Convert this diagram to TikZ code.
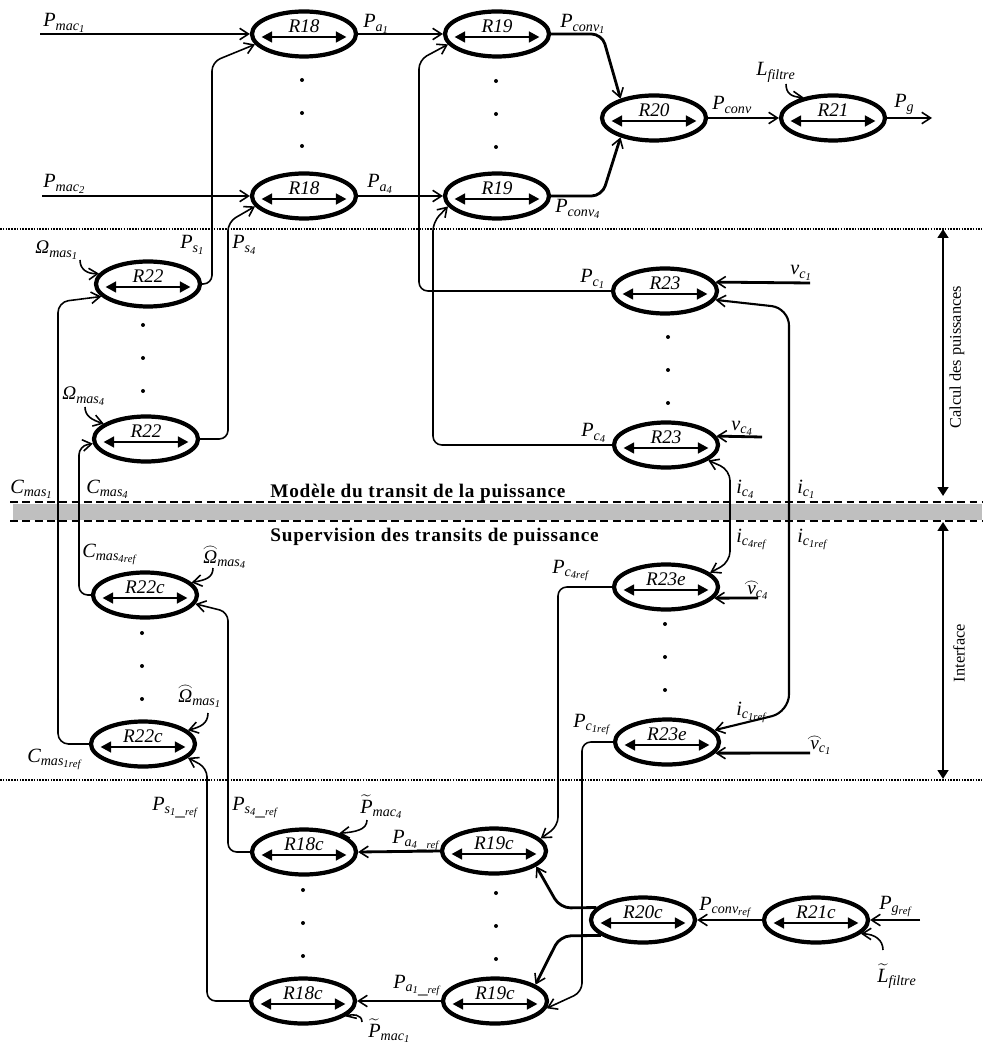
\documentclass[11pt,tikz,border=0pt]{standalone}
\usepackage{fontspec}
\setmainfont{Liberation Serif}
\DeclareMathAlphabet{\mathvar}{TU}{\rmdefault}{m}{it}
\DeclareMathSizes{10.95}{11.5}{8}{6}
\newcommand{\arcsur}[2]{\ooalign{#2\cr\hidewidth\raisebox{#1}{$\scriptstyle\frown$}\hidewidth\cr}}
\usetikzlibrary{arrows.meta,shapes.geometric}

\begin{document}
\begin{tikzpicture}[x=0.2mm,y=-0.2mm,
    bloc/.style={ellipse,draw,line width=2.4pt,minimum width=20.8mm,minimum height=9mm,inner sep=0pt,
      path picture={
        \draw[line width=1.6pt,{Triangle[length=6pt,width=6pt]}-{Triangle[length=6pt,width=6pt]}]
          ([xshift=-8.5mm,yshift=-0.6mm]path picture bounding box.center) --
          ([xshift=8.5mm,yshift=-0.6mm]path picture bounding box.center);
        \node[inner sep=0pt] at ([yshift=1.6mm]path picture bounding box.center) {\textit{#1}};}},
    lbl/.style={anchor=base west,inner sep=0pt},
    fin/.style={line width=0.9pt},
    moyen/.style={line width=1.2pt},
    epais/.style={line width=1.6pt},
    fl/.style={-{Straight Barb[length=5pt,width=6.5pt,line width=0.9pt]}},
    dfl/.style={{Straight Barb[length=5pt,width=6.5pt,line width=0.9pt]}-{Straight Barb[length=5pt,width=6.5pt,line width=0.9pt]}},
    pointille/.style={line width=1.1pt,dash pattern=on 0.9pt off 0.7pt},
    tiret/.style={line width=1.2pt,dash pattern=on 4.5pt off 2.5pt},
    borne/.style={line width=1.3pt,{Triangle[length=5pt,width=6pt]}-{Triangle[length=5pt,width=6pt]}}]
    \useasboundingbox (0,0) rectangle (982,1044);

    % separations
    \fill[black!25] (13,504) rectangle (982,520);
    \draw[tiret] (10,502) -- (982,502);
    \draw[tiret] (10,521) -- (982,521);
    \draw[pointille] (0,229) -- (982,229);
    \draw[pointille] (0,780) -- (982,780);
    \draw[borne] (943,229) -- (943,496);
    \draw[borne] (943,522) -- (943,779);
    \node[rotate=90,font=\fontsize{9.3}{11}\selectfont] at (957,357) {Calcul des puissances};
    \node[rotate=90,font=\fontsize{9.3}{11}\selectfont] at (959,653) {Interface};
    \node[lbl,font=\bfseries\addfontfeature{LetterSpace=4}] at (270,497) {Modèle du transit de la puissance};
    \node[lbl,font=\bfseries\addfontfeature{LetterSpace=4}] at (270,541) {Supervision des transits de puissance};

    % modele
    \node[bloc=R18] (r18a) at (304,34) {};
    \node[bloc=R18] (r18b) at (304,196) {};
    \node[bloc=R19] (r19a) at (497,34) {};
    \node[bloc=R19] (r19b) at (497,196) {};
    \node[bloc=R20] (r20) at (654,118) {};
    \node[bloc=R21] (r21) at (833,118) {};
    \node[bloc=R22] (r22a) at (148,284) {};
    \node[bloc=R22] (r22b) at (146,439) {};
    \node[bloc=R23] (r23a) at (665,291) {};
    \node[bloc=R23] (r23b) at (666,445) {};

    % supervision
    \node[bloc=R22c] (r22ca) at (145,595) {};
    \node[bloc=R22c] (r22cb) at (143,744) {};
    \node[bloc=R23e] (r23ea) at (666,587) {};
    \node[bloc=R23e] (r23eb) at (667,742) {};
    \node[bloc=R18c] (r18ca) at (304,852) {};
    \node[bloc=R18c] (r18cb) at (303,1001) {};
    \node[bloc=R19c] (r19ca) at (494,851) {};
    \node[bloc=R19c] (r19cb) at (495,1001) {};
    \node[bloc=R20c] (r20c) at (643,920) {};
    \node[bloc=R21c] (r21c) at (816,920) {};

    % points de suspension
    \foreach \x/\y in {302/80,496/81,143/325,668/337,142/633,665/624,303/890,496/893}
      \foreach \d in {0,33,66}
        \fill (\x,{\y+\d}) circle (0.4mm);

    % entrees libres
    \coordinate (pmac1) at (40,34);
    \coordinate (pmac2) at (42,196);
    \coordinate (pg) at (932,118);
    \coordinate (lf) at (786,84);
    \coordinate (om1) at (80,260);
    \coordinate (om4) at (85,407);
    \coordinate (vc1) at (810,283);
    \coordinate (vc4) at (762,437);
    \coordinate (om4h) at (213,568);
    \coordinate (om1h) at (208,713);
    \coordinate (vc4h) at (758,598);
    \coordinate (vc1h) at (810,753);
    \coordinate (pgref) at (920,920);
    \coordinate (lfh) at (883,950);
    \coordinate (pm4t) at (367,820);
    \coordinate (pm1t) at (362,1022);

    % liaisons du modele
    \draw[epais,fl] (pmac1) -- (r18a.west);
    \draw[epais,fl] (pmac2) -- (r18b.west);
    \draw[fin,fl,rounded corners=5pt] (r22a.east) -| (212,62) -- (r18a.192);
    \draw[fin,fl,rounded corners=5pt] (r22b.east) -| (228,222) -- (r18b.192);
    \draw[fin,fl] (r18a.east) -- (r19a.west);
    \draw[epais,fl] (r18b.east) -- (r19b.west);
    \draw[fin,fl,rounded corners=5pt] (r23a.west) -| (419,60) -- (r19a.192);
    \draw[fin,fl,rounded corners=5pt] (r23b.west) -| (433,222) -- (r19b.192);
    \draw[epais,fl,rounded corners=6pt] (r19a.east) -- (602,34) -- (r20.150);
    \draw[epais,fl,rounded corners=6pt] (r19b.east) -- (602,196) -- (r20.210);
    \draw[moyen,fl] (r20.east) -- (r21.west);
    \draw[epais,fl] (r21.east) -- (pg);
    \draw[fin,fl] (lf) .. controls (786,94) and (792,97) .. (r21.145);
    \draw[fin,fl] (om1) .. controls (80,270) and (88,274) .. (r22a.168);
    \draw[fin,fl,rounded corners=6pt] (r22cb.west) -| (58,302) -- (r22a.195);
    \draw[fin,fl] (om4) .. controls (85,416) and (92,420) .. (r22b.160);
    \draw[fin,fl,rounded corners=5pt] (r22ca.west) -| (79,446) -- (r22b.185);
    \draw[epais,fl] (vc1) -- (r23a.10);
    \draw[epais,fl] (vc4) -- (r23b.10);
    \draw[moyen,dfl,rounded corners=10pt] (r23a.350) -- (789,308) -- (789,712) -- (r23eb.14);
    \draw[fin,dfl,rounded corners=6pt] (r23b.340) -- (730,470) -- (730,562) -- (r23ea.18);

    % liaisons de la supervision
    \draw[fin,fl] (om4h) .. controls (213,578) and (205,580) .. (r22ca.15);
    \draw[fin,fl] (om1h) .. controls (208,724) and (200,727) .. (r22cb.17);
    \draw[fin,fl,rounded corners=5pt] (r18ca.west) -| (228,612) -- (r22ca.350);
    \draw[fin,fl,rounded corners=5pt] (r18cb.west) -| (207,768) -- (r22cb.343);
    \draw[fin,fl,rounded corners=5pt] (r23ea.west) -| (558,826) -- (r19ca.15);
    \draw[fin,fl,rounded corners=5pt] (r23eb.west) -| (582,992) -- (r19cb.352);
    \draw[epais,fl] (vc4h) -- (r23ea.347);
    \draw[epais,fl] (vc1h) -- (r23eb.347);
    \draw[epais,fl,rounded corners=6pt] (r20c.165) -- (560,908) -- (r19ca.340);
    \draw[epais,fl,rounded corners=6pt] (r20c.200) -- (560,936) -- (r19cb.22);
    \draw[moyen,fl] (r21c.west) -- (r20c.east);
    \draw[epais,fl] (pgref) -- (r21c.east);
    \draw[fin,fl] (lfh) .. controls (883,940) and (875,934) .. (r21c.343);
    \draw[epais,fl] (r19ca.west) -- (r18ca.east);
    \draw[epais,fl] (r19cb.west) -- (r18cb.east);
    \draw[fin,fl] (pm4t) .. controls (367,830) and (355,832) .. (r18ca.28);
    \draw[fin,fl] (pm1t) .. controls (362,1014) and (352,1014) .. (r18cb.340);

    % grandeurs du modele
    \node[lbl] at (43,27) {$\mathvar{P_{mac_1}}$};
    \node[lbl] at (43,188) {$\mathvar{P_{mac_2}}$};
    \node[lbl] at (363,28) {$\mathvar{P_{a_1}}$};
    \node[lbl] at (367,188) {$\mathvar{P_{a_4}}$};
    \node[lbl] at (560,28) {$\mathvar{P_{conv_1}}$};
    \node[lbl] at (555,213) {$\mathvar{P_{conv_4}}$};
    \node[lbl] at (712,110) {$\mathvar{P_{conv}}$};
    \node[lbl] at (756,76) {$\mathvar{L_{filtre}}$};
    \node[lbl] at (894,108) {$\mathvar{P_{g}}$};
    \node[lbl] at (35,254) {$\mbox{\itshape Ω}_{\mathvar{mas_1}}$};
    \node[lbl] at (180,249) {$\mathvar{P_{s_1}}$};
    \node[lbl] at (232,249) {$\mathvar{P_{s_4}}$};
    \node[lbl] at (62,400) {$\mbox{\itshape Ω}_{\mathvar{mas_4}}$};
    \node[lbl] at (10,493) {$\mathvar{C_{mas_1}}$};
    \node[lbl] at (86,493) {$\mathvar{C_{mas_4}}$};
    \node[lbl] at (580,283) {$\mathvar{P_{c_1}}$};
    \node[lbl] at (790,275) {$\mathvar{v_{c_1}}$};
    \node[lbl] at (581,437) {$\mathvar{P_{c_4}}$};
    \node[lbl] at (731,430) {$\mathvar{v_{c_4}}$};
    \node[lbl] at (736,493) {$\mathvar{i_{c_4}}$};
    \node[lbl] at (797,493) {$\mathvar{i_{c_1}}$};

    % grandeurs de la supervision
    \node[lbl] at (82,557) {$\mathvar{C_{mas_{4ref}}}$};
    \node[lbl] at (203,563) {$\mbox{\arcsur{6.3pt}{\itshape Ω}}_{\mathvar{mas_4}}$};
    \node[lbl] at (178,702) {$\mbox{\arcsur{6.3pt}{\itshape Ω}}_{\mathvar{mas_1}}$};
    \node[lbl] at (27,762) {$\mathvar{C_{mas_{1ref}}}$};
    \node[lbl] at (736,542) {$\mathvar{i_{c_{4ref}}}$};
    \node[lbl] at (797,542) {$\mathvar{i_{c_{1ref}}}$};
    \node[lbl] at (552,573) {$\mathvar{P_{c_{4ref}}}$};
    \node[lbl] at (747,594) {$\mbox{\arcsur{4.3pt}{\itshape v}}_{\mathvar{c_4}}$};
    \node[lbl] at (736,715) {$\mathvar{i_{c_{1ref}}}$};
    \node[lbl] at (573,727) {$\mathvar{P_{c_{1ref}}}$};
    \node[lbl] at (810,749) {$\mbox{\arcsur{4.3pt}{\itshape v}}_{\mathvar{c_1}}$};
    \node[lbl] at (152,810) {$\mathvar{P_{s_{1\_ref}}}$};
    \node[lbl] at (232,810) {$\mathvar{P_{s_{4\_ref}}}$};
    \node[lbl] at (360,813) {$\widetilde{\mathvar{P}}_{\mathvar{mac_4}}$};
    \node[lbl] at (392,843) {$\mathvar{P_{a_{4\_ref}}}$};
    \node[lbl] at (393,988) {$\mathvar{P_{a_{1\_ref}}}$};
    \node[lbl] at (368,1037) {$\widetilde{\mathvar{P}}_{\mathvar{mac_1}}$};
    \node[lbl] at (699,910) {$\mathvar{P_{conv_{ref}}}$};
    \node[lbl] at (879,909) {$\mathvar{P_{g_{ref}}}$};
    \node[lbl] at (877,982) {$\widetilde{\mathvar{L}}_{\mathvar{filtre}}$};
\end{tikzpicture}
\end{document}
